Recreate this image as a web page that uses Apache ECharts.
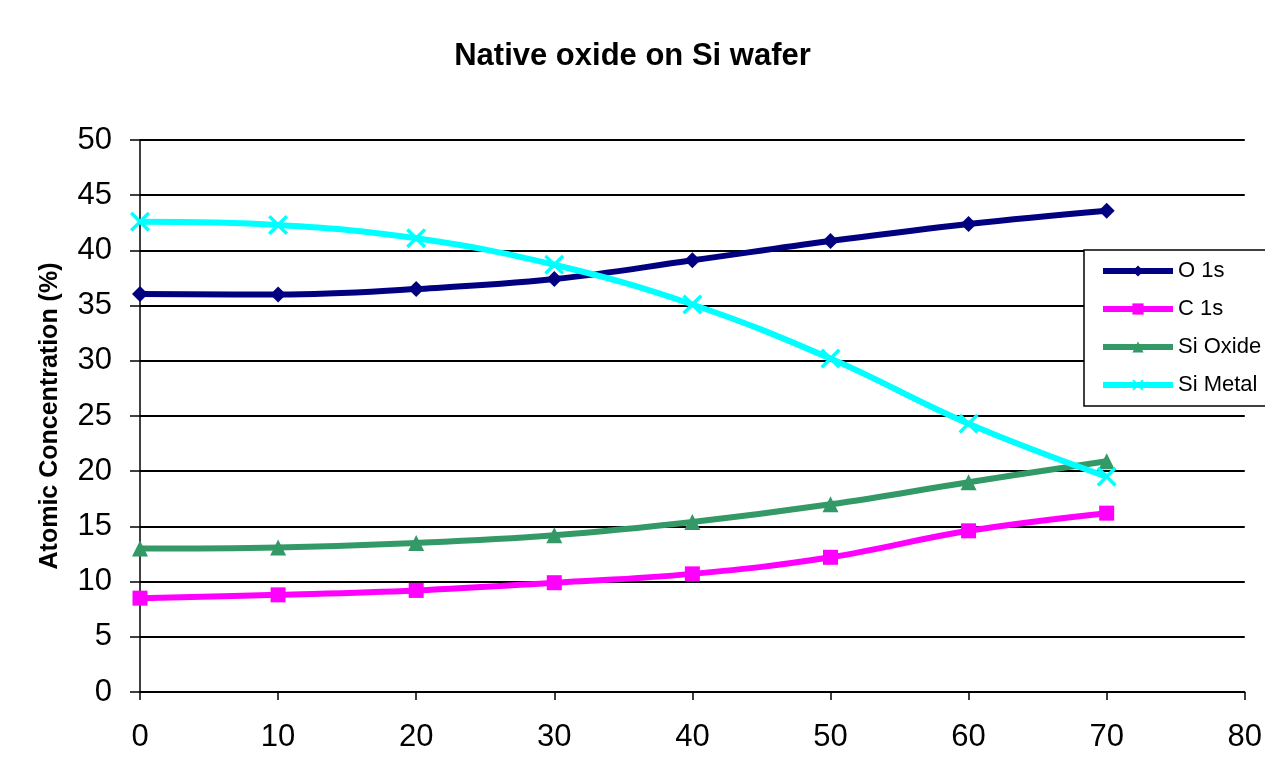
<!DOCTYPE html>
<html>
<head>
<meta charset="utf-8">
<script src="https://cdn.jsdelivr.net/npm/echarts@6/dist/echarts.min.js"></script>
<style>html,body{margin:0;padding:0;background:#fff;}#c{width:1265px;height:763px;}</style>
</head>
<body>
<div id="c"></div>
<script>
const depth = [0, 10, 20, 30, 40, 50, 60, 70];
const o1s = [36.05, 36.0, 36.5, 37.4, 39.1, 40.85, 42.4, 43.6];
const c1s = [8.5, 8.8, 9.2, 9.9, 10.7, 12.2, 14.6, 16.2];
const siOxide = [13.0, 13.1, 13.5, 14.2, 15.4, 17.0, 19.0, 20.9];
const siMetal = [42.6, 42.3, 41.1, 38.7, 35.1, 30.2, 24.3, 19.5];
const seriesNames = ['O 1s', 'C 1s', 'Si Oxide', 'Si Metal'];

const pairs = arr => depth.map((d, i) => [d, arr[i]]);
const crossPath = 'path://M0,1.2L1.2,0L5,3.8L8.8,0L10,1.2L6.2,5L10,8.8L8.8,10L5,6.2L1.2,10L0,8.8L3.8,5Z';
const FONT = 'Liberation Sans, Arial, sans-serif';

function mk(name, data, color, symbol, size) {
  return {
    name: name, type: 'line', data: pairs(data), smooth: 0.4,
    symbol: symbol, symbolSize: size, showSymbol: true,
    lineStyle: { color: color, width: 6 },
    itemStyle: { color: color },
    emphasis: { disabled: true }, animation: false
  };
}

const chart = echarts.init(document.getElementById('c'), null, { renderer: 'canvas' });
chart.setOption({
  backgroundColor: '#ffffff',
  animation: false,
  title: {
    text: 'Native oxide on Si wafer', left: 'center', top: 36,
    textStyle: { fontFamily: FONT, fontSize: 31, fontWeight: 'bold', color: '#000' }
  },
  grid: { left: 140, right: 20, top: 140, bottom: 71, containLabel: false },
  legend: {
    orient: 'vertical', left: 1084, top: 250,
    data: seriesNames,
    itemWidth: 70, itemHeight: 14, itemGap: 16,
    padding: [10, 12, 10, 16],
    borderColor: '#000', borderWidth: 1.5, backgroundColor: '#fff',
    lineStyle: { width: 6 },
    textStyle: { fontFamily: FONT, fontSize: 22, color: '#000' }
  },
  xAxis: {
    type: 'value', min: 0, max: 80, interval: 10,
    axisLine: { show: true, lineStyle: { color: '#000', width: 1.5 } },
    axisTick: { show: true, length: 8, lineStyle: { color: '#000', width: 1.5 } },
    axisLabel: { margin: 30, fontFamily: FONT, fontSize: 31, color: '#000' },
    splitLine: { show: false }
  },
  yAxis: {
    type: 'value', min: 0, max: 50, interval: 5,
    name: 'Atomic Concentration (%)', nameLocation: 'middle', nameGap: 77,
    nameTextStyle: { fontFamily: FONT, fontSize: 25, fontWeight: 'bold', color: '#000' },
    axisLine: { show: true, lineStyle: { color: '#000', width: 1.5 } },
    axisTick: { show: true, length: 10, inside: false, lineStyle: { color: '#000', width: 1.5 } },
    axisLabel: { margin: 28, fontFamily: FONT, fontSize: 31, color: '#000' },
    splitLine: { show: true, lineStyle: { color: '#000', width: 2 } }
  },
  series: [
    mk('O 1s', o1s, '#000080', 'diamond', 16),
    mk('C 1s', c1s, '#ff00ff', 'rect', 15),
    mk('Si Oxide', siOxide, '#339966', 'triangle', 16),
    mk('Si Metal', siMetal, '#00ffff', crossPath, 20)
  ]
});
</script>
</body>
</html>
